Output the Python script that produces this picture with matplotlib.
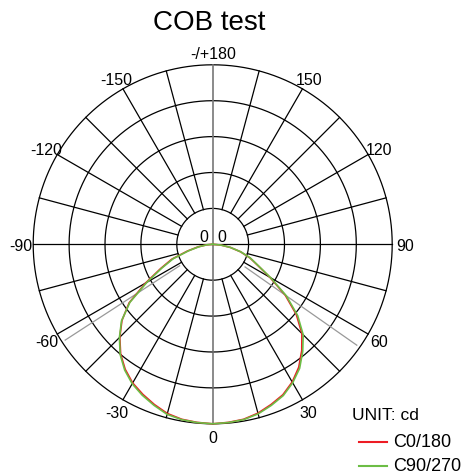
import numpy as np
import matplotlib
matplotlib.use("Agg")
import matplotlib.pyplot as plt
from matplotlib.lines import Line2D

plt.rcParams['font.family'] = ['Liberation Sans', 'DejaVu Sans']

# ---- data (relative intensity, % of peak) ----
gamma_deg = list(range(-90, 91, 5))
c90_270 = [0, 3.3, 7.8, 13.9, 23.4, 31.2, 42.3, 56.3, 66.3, 73.5, 80.2, 85.5, 89.7, 92.8, 95.5, 98.1, 99.2, 99.7,
           100, 99.7, 99.2, 97.8, 95.5, 93.0, 89.1, 84.4, 78.0, 71.3, 61.8, 50.1, 37.3, 27.9, 22.3, 16.2, 10.0, 4.5, 0]
c0_180 = [0, 3.5, 8.3, 14.6, 24.2, 32.0, 43.2, 56.8, 66.0, 73.2, 79.8, 85.0, 89.2, 92.2, 95.0, 97.6, 99.0, 99.6,
          100, 99.6, 99.0, 97.4, 95.0, 92.5, 88.6, 83.6, 77.2, 70.3, 60.8, 49.3, 36.8, 27.6, 22.0, 16.0, 9.9, 4.4, 0]
beam_half_angles = [-57, 55]
angle_ticks = [180, 150, 120, 90, 60, 30, 0, -30, -60, -90, -120, -150]
angle_labels = ['-/+180', '150', '120', '90', '60', '30', '0', '-30', '-60', '-90', '-120', '-150']
ring_values = [20, 40, 60, 80, 100]
rmax = 100

W, H = 465, 477
fig = plt.figure(figsize=(W / 100, H / 100), dpi=100)

cx, cy, R = 212.7, 245.3, 179.5
ax = fig.add_axes([(cx - R) / W, (H - cy - R) / H, 2 * R / W, 2 * R / H], projection='polar')
ax.set_theta_zero_location('S')
ax.set_theta_direction(1)
ax.set_ylim(0, rmax)
ax.grid(False)
ax.set_xticks([])
ax.set_yticks([])
ax.spines['polar'].set_visible(False)
ax.patch.set_visible(False)

th = np.linspace(0, 2 * np.pi, 721)
for rv in ring_values:
    ax.plot(th, np.full_like(th, rv), color='black', lw=0.9, clip_on=False)

for a in range(0, 360, 15):
    if a % 90 == 0:
        continue
    t = np.deg2rad(a)
    ax.plot([t, t], [ring_values[0], rmax], color='black', lw=0.9, clip_on=False)

# main axes lines
ax.plot([np.deg2rad(90), np.deg2rad(90)], [0, rmax], color='black', lw=0.9, clip_on=False)
ax.plot([np.deg2rad(-90), np.deg2rad(-90)], [0, rmax], color='black', lw=0.9, clip_on=False)
ax.plot([0, 0], [0, rmax], color='#777777', lw=1.2, clip_on=False)
ax.plot([np.pi, np.pi], [0, rmax], color='#777777', lw=1.2, clip_on=False)

# beam angle lines
for b in beam_half_angles:
    t = np.deg2rad(b)
    ax.plot([t, t], [22, 98], color='#999999', lw=0.9, clip_on=False)

g = np.deg2rad(gamma_deg)
ax.plot(g, c0_180, color='#ed1c24', lw=1.2, clip_on=False, zorder=5)
ax.plot(g, c90_270, color='#6cbd45', lw=1.2, clip_on=False, zorder=6)

for a, lab in zip(angle_ticks, angle_labels):
    ax.text(np.deg2rad(a), 107, lab, ha='center', va='center_baseline', fontsize=11.5, clip_on=False)

ax.annotate('0', xy=(0, 0), xytext=(-6.1, 7.0), textcoords='offset points', ha='center',
            va='center_baseline', fontsize=11.5)
ax.annotate('0', xy=(0, 0), xytext=(6.5, 7.0), textcoords='offset points', ha='center',
            va='center_baseline', fontsize=11.5)

fig.text(209 / W, 1 - 30 / H, 'COB test', fontsize=20, ha='center', va='baseline')

# legend
fig.text(351.7 / W, 1 - 420 / H, 'UNIT: cd', fontsize=12.5, ha='left', va='baseline')
for y_line, y_text, col, lab in [(442.7, 447.3, '#ed1c24', 'C0/180'), (466.7, 471.2, '#6cbd45', 'C90/270')]:
    fig.add_artist(Line2D([359.3 / W, 387.3 / W], [1 - y_line / H, 1 - y_line / H], color=col, lw=1.5,
                          transform=fig.transFigure))
    fig.text(393.3 / W, 1 - y_text / H, lab, fontsize=13, ha='left', va='baseline')

fig.savefig('out.png', dpi=100)
